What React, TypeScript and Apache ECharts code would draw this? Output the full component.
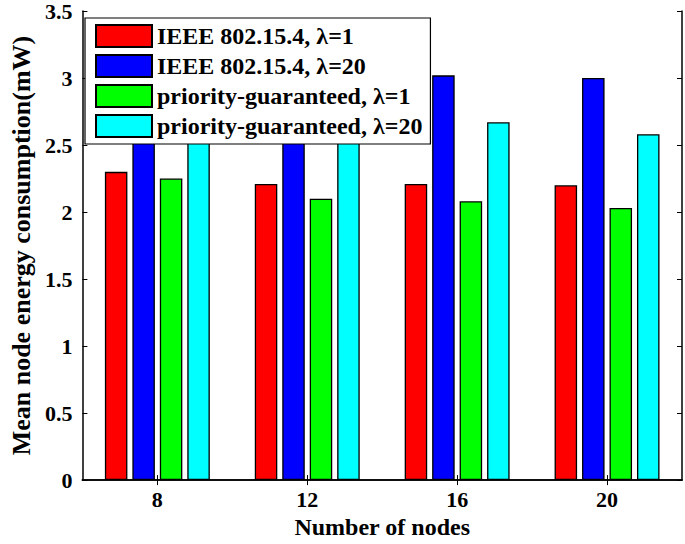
import React, { useEffect, useRef } from "react";
import * as echarts from "echarts";

const categories = ["8", "12", "16", "20"];
const seriesNames = [
  "IEEE 802.15.4, λ=1",
  "IEEE 802.15.4, λ=20",
  "priority-guaranteed, λ=1",
  "priority-guaranteed, λ=20",
];
const ieeeL1 = [2.3, 2.21, 2.21, 2.2];
const ieeeL20 = [2.95, 2.95, 3.02, 3.0];
const prioL1 = [2.25, 2.1, 2.08, 2.03];
const prioL20 = [2.7, 2.65, 2.67, 2.58];
const colors = ["#ff0000", "#0000ff", "#00ff00", "#00ffff"];
const yTicks = { min: 0, max: 3.5, interval: 0.5 };

const FONT = "'Liberation Serif', 'Times New Roman', serif";

export default function App() {
  const ref = useRef<HTMLDivElement>(null);
  useEffect(() => {
    if (!ref.current) return;
    const chart = echarts.init(ref.current, null, { renderer: "svg" });
    const values = [ieeeL1, ieeeL20, prioL1, prioL20];
    const axisLine = { show: true, lineStyle: { color: "#000", width: 1.5 } };
    chart.setOption({
      animation: false,
      backgroundColor: "#fff",
      grid: { left: 73, right: 3, top: 8, bottom: 57, containLabel: false },
      legend: {
        orient: "vertical",
        left: 85,
        top: 18,
        itemWidth: 56,
        itemHeight: 22,
        itemGap: 6,
        padding: [6, 8, 6, 10],
        backgroundColor: "#fff",
        borderColor: "#000",
        borderWidth: 1.2,
        icon: "rect",
        data: seriesNames,
        textStyle: { fontFamily: FONT, fontWeight: "bold", fontSize: 24, color: "#000" },
      },
      xAxis: [
        {
          type: "category",
          data: categories,
          axisLine,
          axisTick: { show: true, inside: true, alignWithLabel: true, length: 5, lineStyle: { color: "#000" } },
          axisLabel: { fontFamily: FONT, fontWeight: "bold", fontSize: 22, color: "#000", margin: 8 },
          name: "Number of nodes",
          nameLocation: "middle",
          nameGap: 32,
          nameTextStyle: { fontFamily: FONT, fontWeight: "bold", fontSize: 24, color: "#000", verticalAlign: "top" },
        },
        {
          type: "category",
          data: categories,
          position: "top",
          axisLine,
          axisTick: { show: true, inside: true, alignWithLabel: true, length: 5, lineStyle: { color: "#000" } },
          axisLabel: { show: false },
        },
      ],
      yAxis: [
        {
          type: "value",
          min: yTicks.min,
          max: yTicks.max,
          interval: yTicks.interval,
          axisLine,
          splitLine: { show: false },
          axisTick: { show: true, inside: true, length: 5, lineStyle: { color: "#000" } },
          axisLabel: { fontFamily: FONT, fontWeight: "bold", fontSize: 22, color: "#000", margin: 10 },
          name: "Mean node energy consumption(mW)",
          nameLocation: "middle",
          nameGap: 59,
          nameTextStyle: { fontFamily: FONT, fontWeight: "bold", fontSize: 26, color: "#000", verticalAlign: "middle" },
        },
        {
          type: "value",
          position: "right",
          min: yTicks.min,
          max: yTicks.max,
          interval: yTicks.interval,
          axisLine,
          splitLine: { show: false },
          axisTick: { show: true, inside: true, length: 5, lineStyle: { color: "#000" } },
          axisLabel: { show: false },
        },
      ],
      series: seriesNames.map((name, i) => ({
        name,
        type: "bar",
        data: values[i],
        barCategoryGap: "30%",
        barGap: "22%",
        itemStyle: { color: colors[i], borderColor: "#000", borderWidth: 1.3 },
      })),
    });
    return () => chart.dispose();
  }, []);
  return (
    <div
      ref={ref}
      style={{ position: "fixed", left: 0, top: 0, width: 685, height: 544 }}
    />
  );
}
